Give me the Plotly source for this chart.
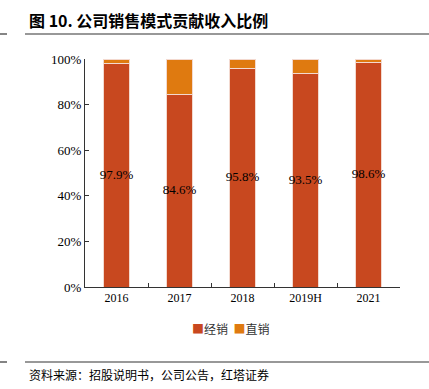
import plotly.graph_objects as go

categories = ["2016", "2017", "2018", "2019H", "2021"]
distribution = [97.9, 84.6, 95.8, 93.5, 98.6]
direct = [2.1, 15.4, 4.2, 6.5, 1.4]
dist_labels = ["97.9%", "84.6%", "95.8%", "93.5%", "98.6%"]
series_names = ["经销", "直销"]
series_colors = ["#C8481F", "#DF7A10"]

W, H = 429, 389
L, R, T, B = 85, 400, 59, 287

def px(x):
    return (x - L) / (R - L)

def py(y):
    return (B - y) / (B - T)

fig = go.Figure()
fig.add_trace(go.Bar(
    x=categories, y=distribution, name=series_names[0],
    marker=dict(color=series_colors[0], line=dict(color="#F3D9CF", width=1)),
    textposition="none", width=0.4,
))
fig.add_trace(go.Bar(
    x=categories, y=direct, name=series_names[1],
    marker=dict(color=series_colors[1], line=dict(color="#F3D9CF", width=1)),
    width=0.4, textposition="none",
))
# value labels centred on the 经销 segment
fig.add_trace(go.Scatter(
    x=categories, y=[v / 2 for v in distribution], text=dist_labels,
    mode="text", textposition="middle center", showlegend=False, hoverinfo="skip",
    cliponaxis=False,
    textfont=dict(family="Liberation Serif", size=13, color="#000000"),
))

fig.update_layout(
    barmode="stack",
    width=W, height=H,
    margin=dict(l=L, r=W - R, t=T, b=H - B, autoexpand=False),
    paper_bgcolor="white", plot_bgcolor="white",
    font=dict(family="Liberation Serif", size=12, color="#000000"),
    showlegend=False,
    xaxis=dict(showline=True, linecolor="#333333", linewidth=1,
               ticks="inside", ticklen=4, tickcolor="#333333", tickson="boundaries",
               tickfont=dict(family="Liberation Serif", size=12, color="#000000")),
    yaxis=dict(range=[0, 100], dtick=20, ticksuffix="%", showgrid=False, zeroline=False,
               showline=True, linecolor="#333333", linewidth=1,
               ticks="inside", ticklen=4, tickcolor="#333333",
               tickfont=dict(family="Liberation Serif", size=13, color="#000000")),
)

# compact legend
legend_text = "  ".join(
    f'<span style="color:{c}">■</span>{n}' for n, c in zip(series_names, series_colors)
)
fig.add_annotation(text=legend_text, xref="paper", yref="paper",
                   x=px(230), y=py(328), xanchor="center", yanchor="middle", showarrow=False,
                   font=dict(family="Noto Sans CJK SC", size=12, color="#333333"))

# title and source
fig.add_annotation(text="<b>图 10. 公司销售模式贡献收入比例</b>", xref="paper", yref="paper",
                   x=px(27), y=py(20), xanchor="left", yanchor="middle", showarrow=False,
                   font=dict(family="Noto Sans CJK SC", size=16, color="#000000"))
fig.add_annotation(text="资料来源：招股说明书，公司公告，红塔证券", xref="paper", yref="paper",
                   x=px(27), y=py(375), xanchor="left", yanchor="middle", showarrow=False,
                   font=dict(family="Noto Sans CJK SC", size=12, color="#000000"))

for yy in (34, 362):
    fig.add_shape(type="line", xref="paper", yref="paper",
                  x0=px(25), x1=px(429), y0=py(yy), y1=py(yy),
                  line=dict(color="#333333", width=1.2))
    fig.add_shape(type="line", xref="paper", yref="paper",
                  x0=px(0), x1=px(7), y0=py(yy), y1=py(yy),
                  line=dict(color="#333333", width=1.2))

fig.write_html("out.html", post_script="document.body.style.margin='0';",
               config={"displayModeBar": False})
